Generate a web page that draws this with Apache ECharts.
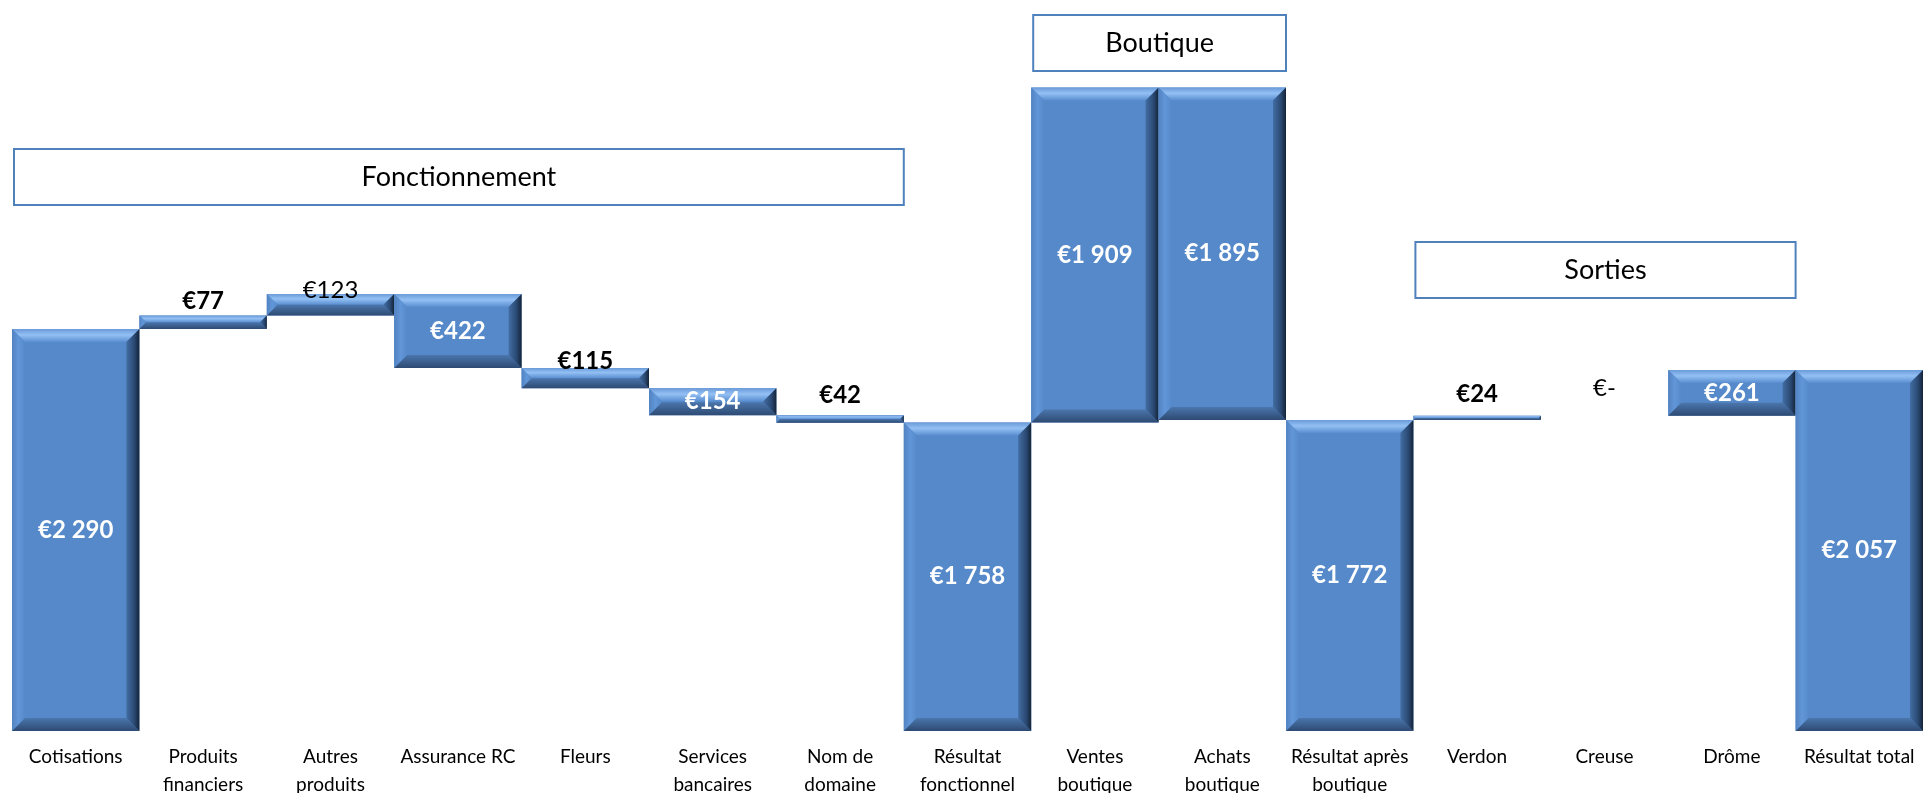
<!DOCTYPE html>
<html>
<head>
<meta charset="utf-8">
<script src="https://cdn.jsdelivr.net/npm/echarts@6/dist/echarts.min.js"></script>
<style>
  html, body {margin: 0; padding: 0; background: #fff}
  #chart {width: 1925px; height: 793px}
</style>
</head>
<body>
<div id="chart"></div>
<script>
// category labels, with the line breaks used on the axis
const categories = [
    "Cotisations", "Produits\nfinanciers", "Autres\nproduits", "Assurance RC", "Fleurs",
    "Services\nbancaires", "Nom de\ndomaine", "Résultat\nfonctionnel", "Ventes\nboutique",
    "Achats\nboutique", "Résultat après\nboutique", "Verdon", "Creuse", "Drôme", "Résultat total"
]
// signed amounts in euros
const values = [2290, 77, 123, -422, -115, -154, -42, 1758, 1909, -1895, 1772, 24, 0, 261, 2057]
// true = bar drawn from zero (subtotal)
const totals = [true, false, false, false, false, false, false, true, false, false, true, false, false, false, true]
// section boxes over groups of categories (first and last index)
const groups = [
    {name: "Fonctionnement", from: 0, to: 6},
    {name: "Boutique", from: 8, to: 9},
    {name: "Sorties", from: 11, to: 13}
]

// layout / style only
const boxTop = {Fonctionnement: 149, Boutique: 15, Sorties: 242}
const boxHeight = 56
const labelLift = [0, 14, 4, 0, 7, 0, 20, 0, 0, 0, 0, 22, 28, 0, 0]
const plainLabels = new Set([2, 12])
const FONT = "Lato, 'Open Sans', sans-serif"

// build floating segments
let run = 0
const segments = values.map((v, i) => {
    let lo, hi
    if (totals[i]) {
        lo = 0; hi = v; run = v
    } else {
        lo = Math.min(run, run + v); hi = Math.max(run, run + v); run += v
    }
    return [i, lo, hi, v]
})

const euro = v => v === 0 ? "€-" : "€" + String(Math.abs(v)).replace(/\B(?=(\d{3})+(?!\d))/g, " ")

function renderBar(params, api) {
    const i = api.value(0)
    const lo = api.coord([i, api.value(1)])
    const hi = api.coord([i, api.value(2)])
    const w = api.size([1, 0])[0]
    const x0 = lo[0] - w / 2, x1 = lo[0] + w / 2
    const y0 = hi[1], y1 = lo[1]
    const h = y1 - y0
    const b = Math.min(13, h / 2, w / 2)
    const children = []
    if (h > 0.5) {
        children.push({type: "rect", shape: {x: x0, y: y0, width: w, height: h}, style: {fill: "#5589c9"}})
        // top bevel
        children.push({type: "polygon", shape: {points: [[x0, y0], [x1, y0], [x1 - b, y0 + b], [x0 + b, y0 + b]]},
            style: {fill: new echarts.graphic.LinearGradient(0, 0, 0, 1, [
                {offset: 0, color: "#6a9ad8"}, {offset: 0.45, color: "#93c0f4"}, {offset: 1, color: "#5a8ed0"}])}})
        // left bevel
        children.push({type: "polygon", shape: {points: [[x0, y0], [x0 + b, y0 + b], [x0 + b, y1 - b], [x0, y1]]},
            style: {fill: new echarts.graphic.LinearGradient(0, 0, 1, 0, [
                {offset: 0, color: "#5283c2"}, {offset: 0.5, color: "#6196d8"}, {offset: 1, color: "#5589ca"}])}})
        // bottom bevel
        children.push({type: "polygon", shape: {points: [[x0, y1], [x1, y1], [x1 - b, y1 - b], [x0 + b, y1 - b]]},
            style: {fill: new echarts.graphic.LinearGradient(0, 0, 0, 1, [
                {offset: 0, color: "#4b76ad"}, {offset: 1, color: "#2d4a72"}])}})
        // right bevel
        children.push({type: "polygon", shape: {points: [[x1, y0], [x1, y1], [x1 - b, y1 - b], [x1 - b, y0 + b]]},
            style: {fill: new echarts.graphic.LinearGradient(0, 0, 1, 0, [
                {offset: 0, color: "#426da3"}, {offset: 0.6, color: "#2b4a74"}, {offset: 1, color: "#142438"}])}})
    }
    const v = api.value(3)
    const inside = h >= 25
    children.push({
        type: "text",
        x: lo[0],
        y: inside ? (y0 + y1) / 2 : y0 - labelLift[i],
        style: {
            text: euro(v),
            align: "center",
            verticalAlign: "middle",
            fill: inside ? "#ffffff" : "#000000",
            fontSize: 24,
            fontWeight: plainLabels.has(i) ? "normal" : "bold",
            fontFamily: FONT
        }
    })
    return {type: "group", children}
}

const chart = echarts.init(document.getElementById("chart"))

chart.setOption({
    animation: false,
    grid: {left: 12, right: 2, top: 29, bottom: 62, outerBoundsMode: "none", containLabel: false},
    xAxis: {
        type: "category",
        data: categories,
        axisLine: {show: false},
        axisTick: {show: false},
        axisLabel: {interval: 0, color: "#000", fontSize: 19, lineHeight: 28, margin: 12, fontFamily: FONT}
    },
    yAxis: {type: "value", min: 0, max: 4000, show: false, splitLine: {show: false}},
    series: [{
        type: "custom",
        renderItem: renderBar,
        encode: {x: 0, y: [1, 2]},
        data: segments
    }]
})

// section boxes placed on the category bands
const band = chart.convertToPixel({xAxisIndex: 0}, 1) - chart.convertToPixel({xAxisIndex: 0}, 0)
const boxes = groups.map(g => {
    const left = chart.convertToPixel({xAxisIndex: 0}, g.from) - band / 2 + 2
    const right = chart.convertToPixel({xAxisIndex: 0}, g.to) + band / 2
    const top = boxTop[g.name]
    return {
        type: "group",
        children: [
            {type: "rect", shape: {x: left, y: top, width: right - left, height: boxHeight},
                style: {fill: "#fff", stroke: "#4f81bd", lineWidth: 2}},
            {type: "text", x: (left + right) / 2, y: top + boxHeight / 2,
                style: {text: g.name, align: "center", verticalAlign: "middle", fill: "#000",
                    fontSize: 27, fontFamily: FONT}}
        ]
    }
})
chart.setOption({graphic: boxes})

window.addEventListener("resize", () => chart.resize())
</script>
</body>
</html>
